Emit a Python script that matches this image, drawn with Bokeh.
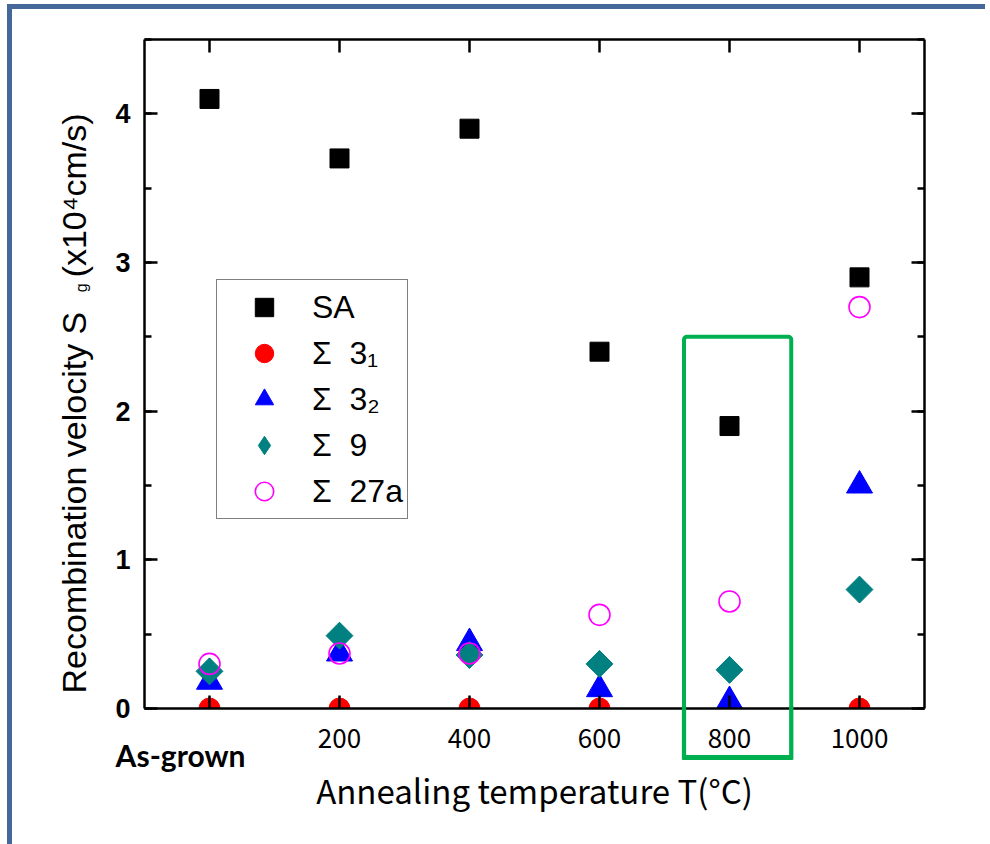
import math
from bokeh.plotting import figure
from bokeh.models import (LinearAxis, Range1d, FixedTicker, SingleIntervalTicker,
                          Legend, LegendItem, Label, BoxAnnotation)
from bokeh.embed import file_html
from bokeh.resources import INLINE

# ---------------- data ----------------
temps = [0, 200, 400, 600, 800, 1000]
x_tick_labels = ["As-grown", "200", "400", "600", "800", "1000"]
sa = [4.1, 3.7, 3.9, 2.4, 1.9, 2.9]
sigma3_1 = [0.0, 0.0, 0.0, 0.0, 0.0, 0.0]
sigma3_2 = [0.18, 0.37, 0.44, 0.13, 0.05, 1.5]
sigma9 = [0.25, 0.49, 0.36, 0.30, 0.26, 0.80]
sigma27a = [0.30, 0.37, 0.37, 0.63, 0.72, 2.70]
series_names = ["SA", "Σ \u00a03₁", "Σ \u00a03₂", "Σ \u00a09", "Σ \u00a027a"]
y_ticks = [0, 1, 2, 3, 4]
hl_left, hl_right, hl_bottom, hl_top = 730, 895, -0.33, 2.5  # box around 800 °C

FRAME = "#45689B"
GREEN = "#00B050"

# the page is a little taller than the window, so that the bottom panel has room
p = figure(width=978, height=900, x_range=Range1d(-100, 1100), y_range=Range1d(0, 4.5),
           output_backend="svg", toolbar_location=None,
           min_border_left=132, min_border_right=66, min_border_top=30, min_border_bottom=201)
p.styles = {"margin-left": "7px", "margin-top": "4px",
            "border-left": f"5px solid {FRAME}", "border-top": f"5px solid {FRAME}"}
p.grid.visible = False
p.outline_line_color = None
p.background_fill_color = "white"
p.border_fill_color = "white"

p.add_layout(LinearAxis(), "above")
p.add_layout(LinearAxis(), "right")

xt = FixedTicker(ticks=temps)
yt = SingleIntervalTicker(interval=1, num_minor_ticks=2)
for ax in p.xaxis:
    ax.ticker = xt
for ax in p.yaxis:
    ax.ticker = yt

for ax in p.axis:
    ax.axis_line_width = 2.5
    ax.axis_line_color = "black"
    ax.major_tick_in = 13
    ax.major_tick_out = 0
    ax.major_tick_line_width = 2.5
    ax.major_tick_line_color = "black"
    ax.minor_tick_in = 7
    ax.minor_tick_out = 0
    ax.minor_tick_line_width = 2.5
    ax.minor_tick_line_color = "black"

p.above[0].major_label_overrides = {t: "" for t in temps}
p.right[0].major_label_overrides = {t: "" for t in y_ticks}
for ax in p.above + p.right:
    ax.major_label_standoff = 0

bx = p.below[0]
bx.major_label_overrides = {t: (lab if t != 0 else "") for t, lab in zip(temps, x_tick_labels)}
bx.major_label_text_font = "Noto Sans CJK JP"
bx.major_label_text_font_size = "26px"
bx.major_label_text_color = "black"
bx.major_label_standoff = 20

ly = p.left[0]
ly.major_label_text_font = "Liberation Sans"
ly.major_label_text_font_style = "bold"
ly.major_label_text_font_size = "27px"
ly.major_label_text_color = "black"
ly.major_label_standoff = 14

# ---------------- series ----------------
r_sa = p.scatter(temps, sa, marker="square", size=19, color="black")
r_31 = p.scatter(temps, sigma3_1, marker="circle", size=21, color="#FF0000")
r_32 = p.scatter(temps, sigma3_2, marker="triangle", size=26, color="#0000FF")
# diamond-shaped key for the legend (sits hidden under the rotated squares)
r_9_key = p.scatter(temps, sigma9, marker="diamond", size=26.5, color="#008080")
r_9 = p.scatter(temps, sigma9, marker="square", size=19, angle=math.pi / 4, color="#008080")
r_27 = p.scatter(temps, sigma27a, marker="circle", size=21, fill_color=None,
                 line_color="#FF00FF", line_width=1.6)

legend = Legend(items=[LegendItem(label=n, renderers=[r]) for n, r in
                       zip(series_names, [r_sa, r_31, r_32, r_9_key, r_27])],
                location=(72, 189), orientation="vertical")
legend.label_text_font = "Liberation Sans"
legend.label_text_font_size = "32px"
legend.label_text_color = "black"
legend.label_height = 46
legend.glyph_height = 46
legend.glyph_width = 86
legend.label_standoff = 5
legend.padding = 4
legend.spacing = 0
legend.margin = 0
legend.border_line_color = "black"
legend.border_line_width = 1
legend.background_fill_color = "white"
legend.background_fill_alpha = 1
p.add_layout(legend)

# highlight box around 800 °C: the part inside the frame ...
p.add_layout(BoxAnnotation(left=hl_left, right=hl_right, bottom=hl_bottom, top=hl_top,
                           fill_color=None, line_color=GREEN, line_alpha=1, line_width=4,
                           border_radius=3))
# ... and the part below the axis: thin filled (empty-text) boxes in side panels,
# which are not clipped to the frame
def bar(x, y, pad, place):
    p.add_layout(Label(x=x, y=y, text="\u00a0", text_font_size="1px", text_align="center",
                       text_baseline="middle", padding=pad, border_line_color=None,
                       background_fill_color=GREEN, background_fill_alpha=1), place)

bar(hl_left, hl_bottom / 2, (2, 2, 26, 26), "right")
bar(hl_right, hl_bottom / 2, (2, 2, 26, 26), "right")
bar((hl_left + hl_right) / 2, hl_bottom, (55, 55, 2, 2), "below")

# ---------------- axis titles ----------------
def lab(x, y, text, font, size, place, angle=0.0, align="left", style="normal"):
    p.add_layout(Label(x=x, y=y, angle=angle, text=text, text_font=font,
                       text_font_size=size, text_align=align, text_baseline="alphabetic",
                       text_font_style=style, text_color="black"), place)

lab(-207.7, 0.101, "Recombination velocity S", "Liberation Sans", "34px", "left", math.pi / 2)
lab(-196.9, 2.80, "g", "Liberation Sans", "16px", "left", math.pi / 2)
lab(-207.7, 2.90, "(x10⁴cm/s)", "Liberation Sans", "34px", "left", math.pi / 2)
lab(500, -0.545, "Annealing temperature T(°C)", "Noto Sans CJK JP", "33px", "below", align="center")
lab(-44.6, -0.316, x_tick_labels[0], "Lato", "30px", "below", align="center", style="bold")

open("out.html", "w").write(file_html(p, INLINE))
